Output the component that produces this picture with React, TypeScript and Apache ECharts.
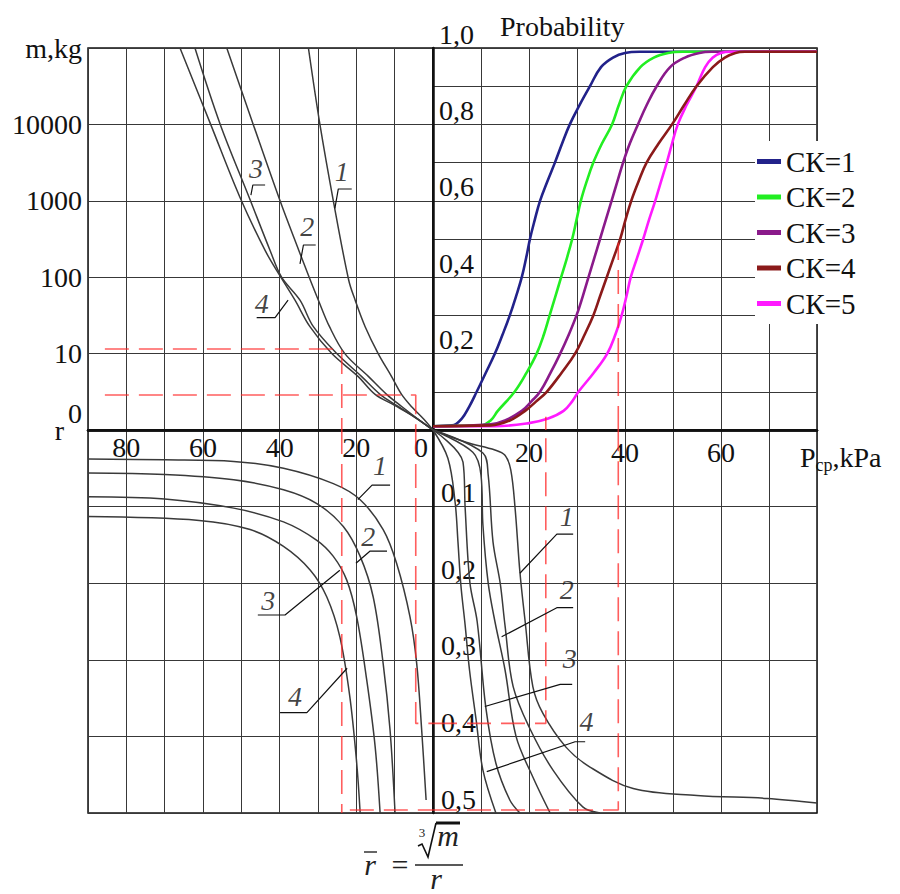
import React, { useEffect, useRef } from 'react';
import * as echarts from 'echarts';

const FONT = 'Liberation Serif';

// ---- tick labels ----
const rTickValues = [80, 60, 40, 20, 0];
const pTickValues = [20, 40, 60];
const mTickValues = [1, 10, 100, 1000, 10000, 100000];
const mTickLabels = ['0', '10', '100', '1000', '10000', 'm,kg'];
const probTickValues = [0.2, 0.4, 0.6, 0.8, 1.0];
const probTickLabels = ['0,2', '0,4', '0,6', '0,8', '1,0'];
const rbarTickValues = [0.1, 0.2, 0.3, 0.4, 0.5];
const rbarTickLabels = ['0,1', '0,2', '0,3', '0,4', '0,5'];

// ---- top-left: m (kg) vs r ----
const massCurve1 = [[32.5, 100000], [29.5, 10000], [26, 1000], [22, 92], [20.3, 50], [17.7, 22.5], [14.3, 10], [10.8, 5], [8.2, 2.93], [5.5, 2], [2.5, 1.4], [0, 1]];
const massCurve2 = [[53.8, 100000], [46.9, 10000], [39.9, 1000], [35, 224], [32.3, 100], [29.9, 50], [27, 22.5], [23, 10], [16.8, 5], [12.1, 2.93], [8, 2], [4, 1.4], [0, 1]];
const massCurve3 = [[62.1, 100000], [55.5, 10000], [48, 1122], [42.5, 224], [39.5, 100], [34.7, 50], [31.2, 22.5], [25.1, 10], [18.6, 5], [13.8, 2.93], [9.2, 2.05], [4.6, 1.45], [0, 1]];
const massCurve4 = [[66, 100000], [58, 10000], [50.4, 1122], [43.8, 224], [39.7, 100], [36, 50], [32.1, 22.5], [26.4, 10], [19.5, 5], [15.1, 2.93], [10, 2.1], [5, 1.5], [0, 1]];

// ---- top-right: probability vs P ----
const probCK1 = [[0, 0.01], [4, 0.012], [6, 0.03], [7.5, 0.06], [9.1, 0.1], [11, 0.15], [12.9, 0.2], [14.5, 0.25], [16, 0.3], [17.3, 0.35], [18.5, 0.4], [19.4, 0.45], [20.2, 0.5], [21.2, 0.55], [22.3, 0.6], [23.8, 0.65], [25.4, 0.7], [26.9, 0.75], [28.5, 0.8], [30.5, 0.85], [32.7, 0.9], [35, 0.95], [37.5, 0.975], [40, 0.987], [43, 0.99], [80, 0.99]];
const probCK2 = [[0, 0.01], [10, 0.012], [12, 0.025], [13.5, 0.05], [17, 0.1], [19.5, 0.15], [21.6, 0.2], [23.1, 0.25], [24.3, 0.3], [25.5, 0.35], [26.7, 0.4], [27.9, 0.45], [29, 0.5], [29.9, 0.55], [30.8, 0.6], [32, 0.65], [33.4, 0.7], [35.2, 0.75], [37.3, 0.8], [38.7, 0.85], [40.3, 0.9], [43.2, 0.95], [46, 0.975], [49, 0.987], [52, 0.99], [80, 0.99]];
const probCK3 = [[0, 0.01], [12, 0.015], [15, 0.025], [18.5, 0.05], [20.5, 0.075], [22.3, 0.1], [24.5, 0.15], [26.5, 0.2], [28.3, 0.25], [29.9, 0.3], [31.2, 0.35], [32.4, 0.4], [33.6, 0.45], [34.8, 0.5], [36, 0.55], [37.2, 0.6], [38.4, 0.65], [39.6, 0.7], [41, 0.75], [42.7, 0.8], [44.5, 0.85], [46.6, 0.9], [49.4, 0.95], [52.5, 0.975], [55.5, 0.987], [58, 0.99], [80, 0.99]];
const probCK4 = [[0, 0.01], [12, 0.012], [16, 0.025], [19.2, 0.05], [21.5, 0.075], [23.7, 0.1], [26.8, 0.15], [29.6, 0.2], [31.6, 0.25], [33.4, 0.3], [34.8, 0.35], [36.2, 0.4], [37.6, 0.45], [39, 0.5], [40.1, 0.55], [41.3, 0.6], [42.8, 0.65], [44.5, 0.7], [47, 0.75], [49.8, 0.8], [52.3, 0.85], [54.9, 0.9], [58.3, 0.95], [60.8, 0.975], [63, 0.987], [65, 0.99], [80, 0.99]];
const probCK5 = [[0, 0.01], [13, 0.01], [20, 0.018], [24, 0.03], [27.2, 0.05], [29, 0.075], [30.3, 0.1], [33.5, 0.15], [36.3, 0.2], [38, 0.25], [39.3, 0.3], [40.3, 0.35], [41.2, 0.4], [42.5, 0.45], [43.8, 0.5], [45, 0.55], [46.3, 0.6], [47.5, 0.65], [48.7, 0.7], [49.8, 0.75], [51, 0.8], [52.8, 0.85], [54.9, 0.9], [56.7, 0.95], [58.3, 0.975], [60, 0.987], [62, 0.99], [80, 0.99]];
const ckNames = ['СК=1', 'СК=2', 'СК=3', 'СК=4', 'СК=5'];
const ckColors = ['#22228a', '#22ee22', '#8a1a8a', '#8b1a1a', '#ff1aff'];

// ---- bottom-left: r-bar vs r ----
const rbarCurve1 = [[90, 0.038], [70, 0.039], [52, 0.041], [39, 0.05], [26, 0.07], [19, 0.091], [13, 0.13], [9.5, 0.174], [6, 0.244], [4.25, 0.305], [2.95, 0.392], [1.8, 0.483]];
const rbarCurve2 = [[90, 0.056], [70, 0.058], [52, 0.065], [39, 0.078], [30.3, 0.096], [23.4, 0.126], [19, 0.165], [15.6, 0.218], [13, 0.305], [11.2, 0.392], [9.9, 0.5]];
const rbarCurve3 = [[90, 0.087], [70, 0.09], [52, 0.102], [39, 0.12], [30.3, 0.144], [26, 0.165], [22.5, 0.196], [19.9, 0.244], [17.3, 0.326], [15.1, 0.413], [13.8, 0.5]];
const rbarCurve4 = [[90, 0.113], [61, 0.118], [47.7, 0.13], [39, 0.152], [32, 0.183], [27.7, 0.218], [24.3, 0.27], [21.7, 0.348], [19.9, 0.435], [19, 0.5]];

// ---- bottom-right: r-bar vs P ----
const pCurve1 = [[0, 0], [6.9, 0.016], [12.9, 0.026], [15, 0.033], [16.2, 0.052], [17.1, 0.102], [18.1, 0.185], [19.2, 0.25], [20.8, 0.335], [22.9, 0.37], [27.7, 0.414], [32.7, 0.44], [41.7, 0.468], [55, 0.477], [69.6, 0.481], [80, 0.487]];
const pCurve2 = [[0, 0], [10.4, 0.03], [11.5, 0.059], [12.5, 0.146], [14, 0.2], [15, 0.255], [16.7, 0.335], [20.2, 0.39], [25, 0.444], [31.2, 0.492], [34.8, 0.5]];
const pCurve2b = [[0, 0], [8.3, 0.029], [10, 0.059], [10.4, 0.124], [11.5, 0.2], [12.9, 0.25], [15, 0.313], [17.3, 0.4], [20.8, 0.453], [24.4, 0.5]];
const pCurve3 = [[0, 0], [6.25, 0.042], [6.7, 0.102], [7.7, 0.2], [9.2, 0.25], [11, 0.362], [13.1, 0.435], [16, 0.483], [18.1, 0.5]];
const pCurve4 = [[0, 0], [3.1, 0.037], [4.6, 0.094], [5.2, 0.146], [5.8, 0.202], [6.7, 0.255], [7.6, 0.313], [9, 0.379], [10.4, 0.444], [13.1, 0.5]];

// ---- red dashed reading lines ----
const redTL = [[[85.6, 11.5], [23.8, 11.5], [23.8, 1]], [[85.6, 2.87], [4.5, 2.87], [4.5, 1]]];
const redBL = [[[23.8, 0], [23.8, 0.5]], [[4.5, 0], [4.5, 0.383], [0, 0.383]], [[21.7, 0.496], [0, 0.496]]];
const redBR = [[[0, 0.383], [23.5, 0.383], [23.5, 0]], [[0, 0.496], [38.6, 0.496], [38.6, 0]]];
const redTR = [[[38.6, 0], [38.6, 0.49]]];
const redTRsolid = [[[23.5, 0], [23.5, 0.035]]];

// ---- curve numbers and leader lines ----
const tlNumberAnchors = [[46.2, 2660, '3'], [23.8, 2400, '1'], [32.8, 458, '2'], [44.7, 45.5, '4']];
const tlLeaders = [
  [[43.8, 1610], [47.0, 1610], [47.5, 1190]],
  [[21.2, 1428], [24.7, 1428], [25.6, 798]],
  [[30.6, 264], [33.8, 264], [34.7, 149]],
  [[46, 29.5], [41.2, 29.5], [37.8, 50]],
];
const blNumberAnchors = [[13.8, 0.046, '1'], [16.9, 0.139, '2'], [43, 0.222, '3'], [36, 0.348, '4']];
const blLeaders = [
  [[11.2, 0.072], [15.9, 0.072], [19.6, 0.091]],
  [[12, 0.158], [16.4, 0.158], [20.1, 0.174]],
  [[45.7, 0.2415], [38.6, 0.2415], [24.3, 0.183]],
  [[39.9, 0.369], [32.9, 0.369], [22.4, 0.311]],
];
const brNumberAnchors = [[27.85, 0.113, '1'], [27.85, 0.208, '2'], [28.5, 0.298, '3'], [32, 0.381, '4']];
const brLeaders = [
  [[29.2, 0.136], [25.8, 0.136], [18.1, 0.187]],
  [[29.2, 0.232], [25.8, 0.232], [14.3, 0.27]],
  [[29, 0.332], [26.5, 0.332], [10.8, 0.361]],
  [[31.7, 0.407], [29.6, 0.407], [11.2, 0.446]],
];

const GRID_COLOR = '#383838';
const AXIS_BLACK = '#111';

function splitLine() {
  return { show: true, lineStyle: { color: GRID_COLOR, width: 1 } };
}

function grayCurve(data: number[][], xi: number, yi: number) {
  return {
    type: 'line', xAxisIndex: xi, yAxisIndex: yi, data, symbol: 'none', smooth: 0.35,
    silent: true, z: 3,
    lineStyle: { color: '#3a3a3a', width: 1.5 },
  };
}

function redLines(sets: number[][][], xi: number, yi: number, dashed: boolean) {
  return sets.map((d) => ({
    type: 'line', xAxisIndex: xi, yAxisIndex: yi, data: d, symbol: 'none', silent: true, z: 4,
    lineStyle: { color: 'rgba(255,40,40,0.75)', width: 1.6, type: dashed ? [24, 10] : 'solid' },
  }));
}

function leaders(sets: number[][][], xi: number, yi: number) {
  return sets.map((d) => ({
    type: 'line', xAxisIndex: xi, yAxisIndex: yi, data: d, symbol: 'none', silent: true, z: 5,
    lineStyle: { color: '#111', width: 1.2 },
  }));
}

function numbers(anchors: any[], xi: number, yi: number) {
  return {
    type: 'scatter', xAxisIndex: xi, yAxisIndex: yi, symbolSize: 0, silent: true, z: 6,
    data: anchors,
    label: {
      show: true, position: 'inside', formatter: (p: any) => p.value[2],
      fontFamily: FONT, fontStyle: 'italic', fontSize: 28, color: '#111',
    },
  };
}

function fmt(values: number[], labels: string[], scale: number) {
  return (v: number) => {
    const k = values.findIndex((t) => Math.abs(t * scale - v * scale) < 0.01);
    return k >= 0 ? labels[k] : '';
  };
}

export default function App() {
  const ref = useRef<HTMLDivElement>(null);
  useEffect(() => {
    const chart = echarts.init(ref.current as HTMLDivElement, null, { renderer: 'svg' });
    const labelBase = { fontFamily: FONT, fontSize: 28, color: '#111' };
    const option: any = {
      animation: false,
      backgroundColor: '#fff',
      textStyle: { fontFamily: FONT },
      grid: [
        { left: 88, top: 48, width: 345, height: 382, show: true, borderColor: AXIS_BLACK, borderWidth: 1.5 },
        { left: 433, top: 48, width: 384, height: 382, show: true, borderColor: AXIS_BLACK, borderWidth: 1.5 },
        { left: 88, top: 430, width: 345, height: 383, show: true, borderColor: AXIS_BLACK, borderWidth: 1.5 },
        { left: 433, top: 430, width: 384, height: 383, show: true, borderColor: AXIS_BLACK, borderWidth: 1.5 },
      ],
      xAxis: [
        {
          gridIndex: 0, type: 'value', min: 0, max: 90, interval: 10, inverse: true, position: 'bottom',
          axisLine: { lineStyle: { color: AXIS_BLACK, width: 2.5 } }, axisTick: { show: false }, splitLine: splitLine(),
          axisLabel: {
            ...labelBase, margin: 3,
            formatter: (v: number) => (rTickValues.includes(v) ? (v === 0 ? '{o|0}' : String(v)) : ''),
            rich: { o: { ...labelBase, padding: [0, 24, 0, 0] } },
          },
          name: 'r', nameLocation: 'end', nameGap: 14,
          nameTextStyle: { ...labelBase, align: 'right', verticalAlign: 'middle', padding: [20, 0, 0, 0] },
        },
        {
          gridIndex: 1, type: 'value', min: 0, max: 80, interval: 10, position: 'bottom',
          axisLine: { lineStyle: { color: AXIS_BLACK, width: 2.5 } }, axisTick: { show: false }, splitLine: splitLine(),
          axisLabel: { ...labelBase, margin: 8, formatter: (v: number) => (pTickValues.includes(v) ? String(v) : '') },
          name: '{a|P}{s|ср}{a|,kPa}', nameLocation: 'end', nameGap: -17,
          nameTextStyle: {
            ...labelBase, align: 'left', verticalAlign: 'top', padding: [10, 0, 0, 0],
            rich: { a: { ...labelBase }, s: { fontFamily: FONT, fontSize: 18, color: '#111', padding: [16, 0, 0, 0] } },
          },
        },
        {
          gridIndex: 2, type: 'value', min: 0, max: 90, interval: 10, inverse: true, position: 'top',
          axisLine: { lineStyle: { color: AXIS_BLACK, width: 2.5 } }, axisTick: { show: false },
          axisLabel: { show: false }, splitLine: splitLine(),
        },
        {
          gridIndex: 3, type: 'value', min: 0, max: 80, interval: 10, position: 'top',
          axisLine: { lineStyle: { color: AXIS_BLACK, width: 2.5 } }, axisTick: { show: false },
          axisLabel: { show: false }, splitLine: splitLine(),
        },
      ],
      yAxis: [
        {
          gridIndex: 0, type: 'log', logBase: 10, min: 1, max: 100000, position: 'left',
          axisLine: { lineStyle: { color: AXIS_BLACK, width: 1.5 } }, axisTick: { show: false }, splitLine: splitLine(),
          axisLabel: {
            ...labelBase, margin: 6,
            formatter: (v: number) => {
              const r = Math.round(v);
              const k = mTickValues.indexOf(r);
              if (k < 0) return '';
              return r === 1 ? '{z|' + mTickLabels[k] + '}' : mTickLabels[k];
            },
            rich: { z: { ...labelBase, padding: [0, 0, 34, 0] } },
          },
        },
        {
          gridIndex: 1, type: 'value', min: 0, max: 1, interval: 0.1, position: 'left',
          axisLine: { lineStyle: { color: AXIS_BLACK, width: 2.5 } }, axisTick: { show: false }, splitLine: splitLine(),
          axisLabel: {
            ...labelBase, inside: true, margin: 6, verticalAlign: 'bottom', align: 'left',
            formatter: fmt(probTickValues, probTickLabels, 10),
          },
          name: 'Probability', nameLocation: 'end', nameGap: 8,
          nameTextStyle: { ...labelBase, align: 'left', verticalAlign: 'bottom', padding: [0, 0, 0, 67] },
        },
        {
          gridIndex: 2, type: 'value', min: 0, max: 0.5, interval: 0.1, inverse: true, position: 'left',
          axisLine: { lineStyle: { color: AXIS_BLACK, width: 1.5 } }, axisTick: { show: false },
          axisLabel: { show: false }, splitLine: splitLine(),
        },
        {
          gridIndex: 3, type: 'value', min: 0, max: 0.5, interval: 0.1, inverse: true, position: 'left',
          axisLine: { lineStyle: { color: AXIS_BLACK, width: 2.5 } }, axisTick: { show: false }, splitLine: splitLine(),
          axisLabel: {
            ...labelBase, inside: true, margin: 8, verticalAlign: 'bottom', align: 'left',
            formatter: fmt(rbarTickValues, rbarTickLabels, 10),
          },
        },
      ],
      legend: {
        data: ckNames, orient: 'vertical', left: 755, top: 141, itemWidth: 24, itemHeight: 5, itemGap: 6.5,
        icon: 'rect', selectedMode: false, backgroundColor: '#fff', padding: [6, 8, 6, 2],
        textStyle: { fontFamily: FONT, fontSize: 29, color: '#111' },
      },
      series: [
        grayCurve(massCurve1, 0, 0), grayCurve(massCurve2, 0, 0), grayCurve(massCurve3, 0, 0), grayCurve(massCurve4, 0, 0),
        grayCurve(rbarCurve1, 2, 2), grayCurve(rbarCurve2, 2, 2), grayCurve(rbarCurve3, 2, 2), grayCurve(rbarCurve4, 2, 2),
        grayCurve(pCurve1, 3, 3), grayCurve(pCurve2, 3, 3), grayCurve(pCurve2b, 3, 3), grayCurve(pCurve3, 3, 3), grayCurve(pCurve4, 3, 3),
        ...[probCK1, probCK2, probCK3, probCK4, probCK5].map((d, i) => ({
          name: ckNames[i], type: 'line', xAxisIndex: 1, yAxisIndex: 1, data: d, symbol: 'none',
          smooth: 0.4, silent: true, z: 3 + (i === 3 ? 1 : 0),
          color: ckColors[i], lineStyle: { color: ckColors[i], width: 2.6 },
        })),
        ...redLines(redTL, 0, 0, true), ...redLines(redBL, 2, 2, true), ...redLines(redBR, 3, 3, true),
        ...redLines(redTR, 1, 1, true), ...redLines(redTRsolid, 1, 1, false),
        ...leaders(tlLeaders, 0, 0), ...leaders(blLeaders, 2, 2), ...leaders(brLeaders, 3, 3),
        numbers(tlNumberAnchors, 0, 0), numbers(blNumberAnchors, 2, 2), numbers(brNumberAnchors, 3, 3),
      ],
      graphic: [
        { type: 'text', x: 370, y: 864, style: { text: 'r', fontFamily: FONT, fontStyle: 'italic', fontSize: 30, fill: '#222', align: 'center', verticalAlign: 'middle' } },
        { type: 'line', shape: { x1: 364, y1: 852, x2: 377, y2: 852 }, style: { stroke: '#333', lineWidth: 1.5 } },
        { type: 'text', x: 400, y: 864, style: { text: '=', fontFamily: FONT, fontSize: 30, fill: '#222', align: 'center', verticalAlign: 'middle' } },
        { type: 'line', shape: { x1: 415, y1: 865, x2: 463, y2: 865 }, style: { stroke: '#222', lineWidth: 1.4 } },
        { type: 'text', x: 422, y: 832, style: { text: '3', fontFamily: FONT, fontSize: 13, fill: '#222', align: 'center', verticalAlign: 'middle' } },
        { type: 'polyline', shape: { points: [[418, 846], [422, 844], [428, 857], [436, 823]] }, style: { stroke: '#111', lineWidth: 1.6, fill: 'none' } },
        { type: 'line', shape: { x1: 436, y1: 823, x2: 460, y2: 823 }, style: { stroke: '#111', lineWidth: 3 } },
        { type: 'text', x: 448, y: 835, style: { text: 'm', fontFamily: FONT, fontStyle: 'italic', fontSize: 30, fill: '#222', align: 'center', verticalAlign: 'middle' } },
        { type: 'text', x: 436, y: 878, style: { text: 'r', fontFamily: FONT, fontStyle: 'italic', fontSize: 30, fill: '#222', align: 'center', verticalAlign: 'middle' } },
      ],
    };
    chart.setOption(option);
    return () => chart.dispose();
  }, []);
  return <div ref={ref} style={{ position: 'absolute', left: 0, top: 0, width: 900, height: 894, background: '#fff' }} />;
}
